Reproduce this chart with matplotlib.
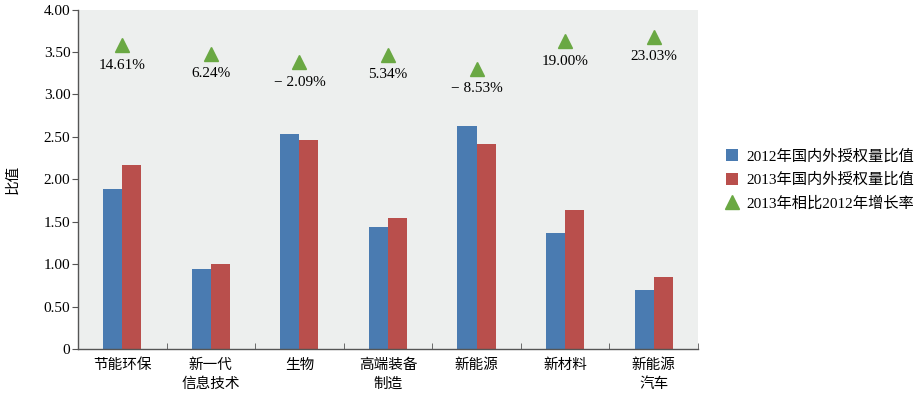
import numpy as np
import matplotlib.pyplot as plt

# data
categories = ["节能环保", "新一代\n信息技术", "生物", "高端装备\n制造", "新能源", "新材料", "新能源\n汽车"]
ratio_2012 = [1.89, 0.94, 2.53, 1.44, 2.63, 1.37, 0.70]
ratio_2013 = [2.17, 1.00, 2.46, 1.54, 2.41, 1.64, 0.85]
growth = [14.61, 6.24, -2.09, 5.34, -8.53, 19.00, 23.03]
growth_labels = ["14.61%", "6.24%", "\u2212 2.09%", "5.34%", "\u2212 8.53%", "19.00%", "23.03%"]

plt.rcParams['font.family'] = ['Liberation Serif', 'Noto Sans CJK SC']
plt.rcParams['axes.unicode_minus'] = True

blue = "#4a7bb1"
red = "#b94f4c"
green = "#6aa843"
axis_col = "#555555"

fig = plt.figure(figsize=(9.17, 3.97), dpi=100)
ax = fig.add_axes([0.0851, 0.1209, 0.676, 0.855])
ax.set_facecolor("#edefee")

x = np.arange(len(categories))
w = 0.215
b1 = ax.bar(x - w / 2, ratio_2012, w, color=blue, label="2012年国内外授权量比值")
b2 = ax.bar(x + w / 2, ratio_2013, w, color=red, label="2013年国内外授权量比值")

ax.set_xlim(-0.5, len(categories) - 0.5)
ax.set_ylim(0, 4.0)
yt = np.arange(0, 4.01, 0.5)
ax.set_yticks(yt)
ax.set_yticklabels(["0"] + [f"{v:.2f}" for v in yt[1:]], fontsize=11)
ax.set_xticks(x)
ax.set_xticklabels(categories, fontsize=10.5, linespacing=1.5)
ax.set_xticks(np.arange(-0.5, len(categories), 1), minor=True)
ax.tick_params(axis='x', which='major', length=0, pad=7)
ax.tick_params(axis='x', which='minor', length=4, direction='in', color=axis_col)
ax.tick_params(axis='y', length=4, direction='out', color=axis_col, pad=1.5)

for s in ["top", "right"]:
    ax.spines[s].set_visible(False)
for s in ["left", "bottom"]:
    ax.spines[s].set_color(axis_col)
    ax.spines[s].set_linewidth(1.0)

ax.set_ylabel("比值", fontsize=10.5)
ax.yaxis.set_label_coords(-0.095, 0.5)

# growth rate markers on a hidden secondary scale
ax2 = ax.twinx()
ax2.set_ylim(-286, 50)
ax2.axis("off")
tri, = ax2.plot(x, growth, linestyle="none", marker="^", markersize=10.5,
                color=green, label="2013年相比2012年增长率")
for xi, g, lab in zip(x, growth, growth_labels):
    ax2.annotate(lab, (xi, g), xytext=(0, -14.5), textcoords="offset points",
                 ha="center", va="center", fontsize=11)

fig.legend(handles=[b1, b2, tri], loc="center left", bbox_to_anchor=(0.792, 0.547),
           frameon=False, fontsize=11, handlelength=0.8, handleheight=0.8,
           handletextpad=0.5, labelspacing=0.6, borderpad=0, borderaxespad=0)

fig.savefig("out.png", dpi=100)
